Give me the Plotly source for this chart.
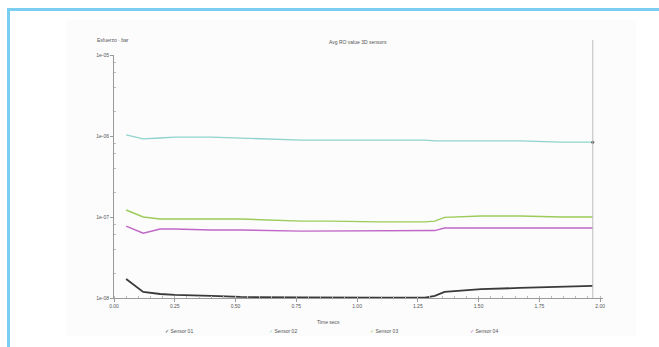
import plotly.graph_objects as go

# ---------------- data ----------------
time_s = [0.05, 0.12, 0.19, 0.25, 0.40, 0.52, 0.77, 0.89, 1.09, 1.28, 1.32, 1.36, 1.51, 1.67, 1.84, 1.97]
sensor_01 = [1.72e-8, 1.19e-8, 1.12e-8, 1.09e-8, 1.06e-8, 1.03e-8, 1.02e-8, 1.01e-8,
             1.01e-8, 1.01e-8, 1.06e-8, 1.19e-8, 1.29e-8, 1.33e-8, 1.37e-8, 1.41e-8]
sensor_02 = [1.03e-6, 9.2e-7, 9.45e-7, 9.7e-7, 9.7e-7, 9.45e-7, 8.9e-7, 8.9e-7,
             8.9e-7, 8.9e-7, 8.7e-7, 8.7e-7, 8.7e-7, 8.7e-7, 8.4e-7, 8.4e-7]
sensor_03 = [1.22e-7, 1.0e-7, 9.45e-8, 9.45e-8, 9.45e-8, 9.45e-8, 8.9e-8, 8.9e-8,
             8.7e-8, 8.7e-8, 8.9e-8, 9.9e-8, 1.03e-7, 1.03e-7, 1.0e-7, 1.0e-7]
sensor_04 = [7.7e-8, 6.3e-8, 7.1e-8, 7.1e-8, 6.9e-8, 6.9e-8, 6.7e-8, 6.7e-8,
             6.7e-8, 6.7e-8, 6.8e-8, 7.3e-8, 7.3e-8, 7.3e-8, 7.3e-8, 7.3e-8]
series_names = ["Sensor 01", "Sensor 02", "Sensor 03", "Sensor 04"]
x_tick_vals = [0.0, 0.25, 0.5, 0.75, 1.0, 1.25, 1.5, 1.75, 2.0]
x_tick_text = ["0.00", "0.25", "0.50", "0.75", "1.00", "1.25", "1.50", "1.75", "2.00"]
y_tick_vals = [1e-8, 1e-7, 1e-6, 1e-5]
y_tick_text = ["1e-08", "1e-07", "1e-06", "1e-05"]
y_minor_vals = [2e-8, 4e-8, 6e-8, 8e-8, 2e-7, 4e-7, 6e-7, 8e-7, 2e-6, 4e-6, 6e-6, 8e-6]

# ---------------- layout helpers ----------------
W, H = 659, 347
ML, MR, MT, MB = 114, 56, 55, 49
PW, PH = W - ML - MR, H - MT - MB


def px(x):
    return (x - ML) / PW


def py(y):
    return (H - MB - y) / PH


colors = ["#3a3a3a", "#8fd3cc", "#9ccb5a", "#c066c6"]
widths = [1.8, 1.3, 1.4, 1.4]
series = [sensor_01, sensor_02, sensor_03, sensor_04]

fig = go.Figure()
for name, vals, c, w in zip(series_names, series, colors, widths):
    fig.add_trace(go.Scatter(x=time_s, y=vals, mode="lines", name=name,
                             line=dict(color=c, width=w), showlegend=False))

# end marker on the top series
fig.add_trace(go.Scatter(x=[time_s[-1]], y=[sensor_02[-1]], mode="markers",
                         marker=dict(color="#555555", size=3), showlegend=False))

font = dict(family="Liberation Sans, Arial, sans-serif", size=5, color="#555555")

shapes = [
    # faint panel background
    dict(type="rect", xref="paper", yref="paper", layer="below",
         x0=px(66), x1=px(636), y0=py(336), y1=py(20),
         fillcolor="#fcfcfc", line=dict(width=0)),
    # blue frame (top and left)
    dict(type="rect", xref="paper", yref="paper",
         x0=px(7), x1=px(700), y0=py(11), y1=py(8),
         fillcolor="#7ccdf2", line=dict(width=0)),
    dict(type="rect", xref="paper", yref="paper",
         x0=px(7), x1=px(10), y0=py(400), y1=py(8),
         fillcolor="#7ccdf2", line=dict(width=0)),
    # cursor line at the end of the data
    dict(type="line", xref="x", yref="paper", x0=time_s[-1], x1=time_s[-1],
         y0=0, y1=py(40), line=dict(color="#bdbdbd", width=1)),
]

annotations = [
    dict(text="Avg RO value 3D sensors", x=px(358), y=py(42), xref="paper", yref="paper",
         showarrow=False, font=font, xanchor="center", yanchor="middle"),
    dict(text="Esfuerzo · bar", x=px(95), y=py(40), xref="paper", yref="paper",
         showarrow=False, font=font, xanchor="left", yanchor="middle"),
    dict(text="Time secs", x=px(328), y=py(322), xref="paper", yref="paper",
         showarrow=False, font=font, xanchor="center", yanchor="middle"),
]

legend_x = [163, 267, 368, 468]
for lx, name, c in zip(legend_x, series_names, colors):
    annotations.append(dict(text=f"<span style='color:{c}'>✓</span> {name}",
                            x=px(lx), y=py(331), xref="paper", yref="paper",
                            showarrow=False, font=font, xanchor="left", yanchor="middle"))

fig.update_layout(
    width=W, height=H,
    margin=dict(l=ML, r=MR, t=MT, b=MB),
    paper_bgcolor="white",
    plot_bgcolor="rgba(0,0,0,0)",
    shapes=shapes,
    annotations=annotations,
    showlegend=False,
    font=font,
)

fig.update_xaxes(range=[0, 2.012], tickvals=x_tick_vals, ticktext=x_tick_text,
                 showgrid=False, zeroline=False, showline=True, linecolor="#9a9a9a",
                 linewidth=1, ticks="outside", ticklen=3, tickcolor="#9a9a9a",
                 tickfont=font, automargin=False,
                 minor=dict(dtick=0.05, ticks="inside", ticklen=2, tickcolor="#bbbbbb"))
fig.update_yaxes(type="log", range=[-8, -5], tickvals=y_tick_vals, ticktext=y_tick_text,
                 showgrid=False, zeroline=False, showline=True, linecolor="#9a9a9a",
                 linewidth=1, ticks="outside", ticklen=3, tickcolor="#9a9a9a",
                 tickfont=font, automargin=False,
                 minor=dict(tickvals=y_minor_vals, ticks="inside", ticklen=2,
                            tickcolor="#bbbbbb", showgrid=False))

fig.write_html("out.html", config={"displayModeBar": False},
               post_script="document.body.style.margin='0';document.body.style.padding='0';")
